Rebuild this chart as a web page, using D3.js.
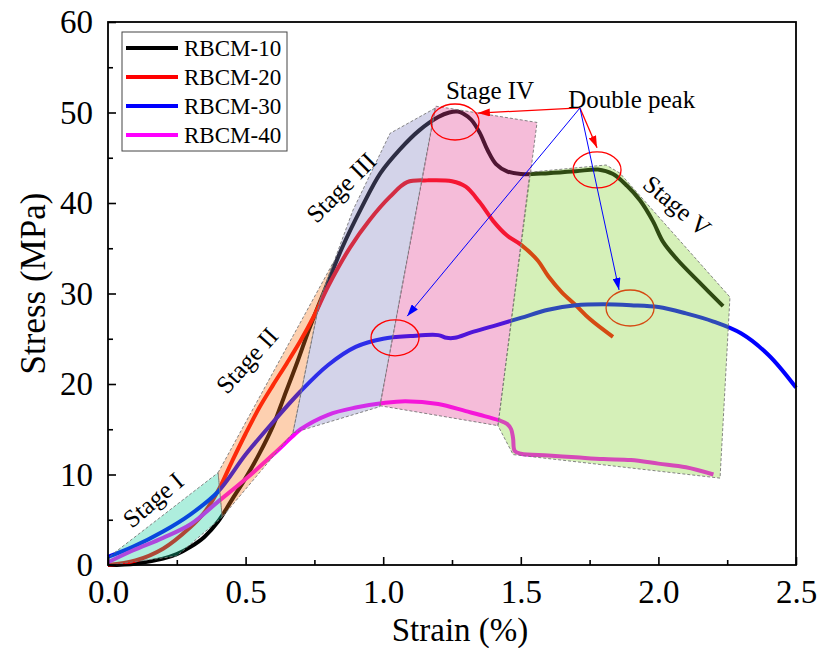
<!DOCTYPE html>
<html>
<head>
<meta charset="utf-8">
<script src="https://cdn.jsdelivr.net/npm/d3@7"></script>
<style>
  body { margin: 0; background: #fff; }
</style>
</head>
<body>
<script>
// stress-strain curves (strain %, stress MPa)
const strain10 = [0, 0.1, 0.2, 0.25, 0.3, 0.35, 0.4, 0.45, 0.5, 0.55, 0.6, 0.64, 0.69, 0.73, 0.8, 0.85, 0.92, 0.99, 1.06, 1.13, 1.2, 1.24, 1.27, 1.29, 1.32, 1.35, 1.38, 1.41, 1.45, 1.5, 1.6, 1.7, 1.78, 1.835, 1.886, 1.933, 1.98, 2.017, 2.07, 2.15, 2.235];
const stress10 = [0, 0.15, 0.7, 1.2, 2.0, 3.1, 4.8, 7.2, 9.6, 12.3, 15.4, 18.6, 22.6, 26.0, 31.3, 35.0, 39.4, 43.3, 45.9, 48.0, 49.5, 50.0, 50.1, 49.9, 49.2, 47.8, 45.8, 44.3, 43.5, 43.2, 43.3, 43.5, 43.7, 43.2, 41.9, 40.3, 38.0, 35.7, 33.7, 31.2, 28.6];

const strain20 = [0, 0.1, 0.2, 0.3, 0.35, 0.4, 0.45, 0.5, 0.55, 0.6, 0.65, 0.7, 0.75, 0.8, 0.88, 0.95, 1.025, 1.087, 1.16, 1.25, 1.3, 1.35, 1.4, 1.45, 1.5, 1.56, 1.6, 1.65, 1.7, 1.75, 1.835];
const stress20 = [0, 0.5, 1.8, 4.2, 5.8, 8.2, 11.4, 14.5, 17.4, 19.9, 22.3, 24.8, 27.6, 30.8, 35.1, 38.1, 40.7, 42.3, 42.5, 42.4, 41.8, 40.1, 38.0, 36.4, 35.4, 33.7, 31.9, 30.1, 28.7, 27.2, 25.2];

const strain30 = [0, 0.09, 0.2, 0.3, 0.4, 0.5, 0.6, 0.7, 0.8, 0.9, 1.0, 1.1, 1.2, 1.23, 1.26, 1.32, 1.4, 1.5, 1.6, 1.7, 1.8, 1.9, 2.0, 2.1, 2.2, 2.3, 2.4, 2.5];
const stress30 = [0.9, 2.0, 3.7, 5.6, 8.1, 12.2, 15.8, 19.2, 22.1, 24.1, 25.0, 25.3, 25.4, 25.1, 25.1, 25.7, 26.4, 27.3, 28.2, 28.7, 28.8, 28.7, 28.5, 27.8, 26.9, 25.6, 23.2, 19.6];

const strain40 = [0, 0.09, 0.2, 0.3, 0.4, 0.5, 0.6, 0.67, 0.7, 0.8, 0.9, 1.0, 1.08, 1.2, 1.3, 1.35, 1.42, 1.45, 1.465, 1.472, 1.478, 1.5, 1.6, 1.7, 1.8, 1.9, 2.0, 2.1, 2.2];
const stress40 = [0.3, 1.6, 3.0, 4.5, 7.0, 9.5, 12.2, 14.2, 15.0, 16.6, 17.4, 17.9, 18.1, 17.8, 17.0, 16.6, 16.0, 15.6, 15.0, 14.0, 12.6, 12.3, 12.1, 11.9, 11.7, 11.6, 11.2, 10.8, 10.0];

const seriesNames = ["RBCM-10", "RBCM-20", "RBCM-30", "RBCM-40"];
const seriesColors = ["#000000", "#ff0000", "#0000ff", "#ff00ff"];

// stage regions [strain, stress]
const stageI = [[0, 0], [0, 0.8], [0.40, 10.2], [0.415, 5.3], [0.25, 1.0], [0.01, 0]];
const stageII = [[0.40, 10.2], [0.818, 33.4], [0.77, 29.3], [0.672, 14.6], [0.415, 5.3]];
const stageIII = [[0.672, 14.6], [0.77, 29.3], [0.89, 39.2], [1.025, 47.7], [1.19, 50.5], [0.988, 17.5]];
const stageIV = [[0.988, 17.6], [1.19, 50.7], [1.559, 48.9], [1.417, 15.4]];
const stageV = [[1.417, 15.4], [1.533, 43.4], [1.81, 44.2], [1.86, 43.3], [2.26, 29.6], [2.224, 9.6], [1.472, 12.2]];
const stageFills = ["#18ce9e", "#f9791d", "#8080c0", "#e24092", "#87d434"];

const stageLabels = ["Stage I", "Stage II", "Stage III", "Stage IV", "Stage V"];
const stageLabelPos = [[0.164, 7.2], [0.505, 22.6], [0.847, 41.7], [1.228, 51.5], [2.068, 39.7]];
const stageLabelRot = [-40, -48, -45, 0, 40];

// double peak markers
const peakCenters = [[1.261, 48.95], [1.777, 43.65], [1.043, 25.1], [1.897, 28.4]];
const arrowFrom = [1.715, 50.5];
const arrowTo = [[1.344, 49.94], [1.777, 46.1], [1.087, 27.5], [1.857, 30.4]];
const arrowColors = ["#ff0000", "#ff0000", "#0000ff", "#0000ff"];

const xTicks = [0, 0.5, 1.0, 1.5, 2.0, 2.5];
const yTicks = [0, 10, 20, 30, 40, 50, 60];

const W = 819, H = 648;
const pLeft = 108, pRight = 796, pTop = 22, pBottom = 565;
const serif = "'Liberation Serif', 'Times New Roman', serif";

const x = d3.scaleLinear().domain([0, 2.5]).range([pLeft, pRight]);
const y = d3.scaleLinear().domain([0, 60]).range([pBottom, pTop]);

const svg = d3.select("body").append("svg")
  .attr("width", W)
  .attr("height", H);

const defs = svg.append("defs");
["red", "blue"].forEach((nm, i) => {
  defs.append("marker")
    .attr("id", "head-" + nm)
    .attr("viewBox", "0 0 12 8")
    .attr("refX", 12).attr("refY", 4)
    .attr("markerWidth", 12).attr("markerHeight", 8)
    .attr("markerUnits", "userSpaceOnUse")
    .attr("orient", "auto")
    .append("path")
    .attr("d", "M0,0 L12,4 L0,8 Z")
    .attr("fill", i == 0 ? "#ff0000" : "#0000ff");
});

const plot = svg.append("g");

const line = d3.line().x(d => x(d[0])).y(d => y(d[1])).curve(d3.curveCatmullRom.alpha(0.5));

const curves = [
  d3.zip(strain10, stress10),
  d3.zip(strain20, stress20),
  d3.zip(strain30, stress30),
  d3.zip(strain40, stress40)
];

plot.selectAll(".curve")
  .data(curves)
  .enter()
  .append("path")
  .attr("class", "curve")
  .attr("d", line)
  .attr("fill", "none")
  .attr("stroke", (d, i) => seriesColors[i])
  .attr("stroke-width", 4)
  .attr("stroke-linejoin", "round");

// this one sits under the green region
plot.append("ellipse")
  .attr("cx", x(peakCenters[3][0]))
  .attr("cy", y(peakCenters[3][1]))
  .attr("rx", 24).attr("ry", 18)
  .attr("fill", "none")
  .attr("stroke", "#ff0000")
  .attr("stroke-width", 1.3);

const poly = d3.line().x(d => x(d[0])).y(d => y(d[1]));

plot.selectAll(".stage")
  .data([stageI, stageII, stageIII, stageIV, stageV])
  .enter()
  .append("path")
  .attr("class", "stage")
  .attr("d", d => poly(d) + "Z")
  .attr("fill", (d, i) => stageFills[i])
  .attr("fill-opacity", 0.35)
  .attr("stroke", "#777")
  .attr("stroke-width", 0.9)
  .attr("stroke-dasharray", "3,2");

plot.selectAll(".peak")
  .data(peakCenters.slice(0, 3))
  .enter()
  .append("ellipse")
  .attr("class", "peak")
  .attr("cx", d => x(d[0]))
  .attr("cy", d => y(d[1]))
  .attr("rx", 24).attr("ry", 18)
  .attr("fill", "none")
  .attr("stroke", "#ff0000")
  .attr("stroke-width", 1.3);

plot.selectAll(".arrow")
  .data(arrowTo)
  .enter()
  .append("line")
  .attr("class", "arrow")
  .attr("x1", x(arrowFrom[0]))
  .attr("y1", y(arrowFrom[1]))
  .attr("x2", d => x(d[0]))
  .attr("y2", d => y(d[1]))
  .attr("stroke", (d, i) => arrowColors[i])
  .attr("stroke-width", (d, i) => i < 2 ? 1.3 : 1)
  .attr("marker-end", (d, i) => i < 2 ? "url(#head-red)" : "url(#head-blue)");

plot.selectAll(".stageLabel")
  .data(stageLabels)
  .enter()
  .append("text")
  .attr("class", "stageLabel")
  .attr("transform", (d, i) => `translate(${x(stageLabelPos[i][0])},${y(stageLabelPos[i][1])}) rotate(${stageLabelRot[i]})`)
  .attr("text-anchor", (d, i) => i == 3 ? "start" : "middle")
  .attr("dominant-baseline", (d, i) => i == 3 ? "auto" : "central")
  .attr("font-size", 25)
  .text(d => d);

plot.append("text")
  .attr("x", x(1.672))
  .attr("y", y(50.5))
  .attr("font-size", 25)
  .text("Double peak");

// axes, ticks pointing inward
const xAxis = d3.axisBottom(x).tickValues(xTicks).tickFormat(d3.format(".1f"))
  .tickSizeInner(-8).tickSizeOuter(0).tickPadding(15);
const xMinor = d3.axisBottom(x).tickValues([0.25, 0.75, 1.25, 1.75, 2.25]).tickFormat("")
  .tickSizeInner(-5).tickSizeOuter(0);
const yAxis = d3.axisLeft(y).tickValues(yTicks).tickFormat(d3.format("d"))
  .tickSizeInner(-8).tickSizeOuter(0).tickPadding(15);
const yMinor = d3.axisLeft(y).tickValues([5, 15, 25, 35, 45, 55]).tickFormat("")
  .tickSizeInner(-5).tickSizeOuter(0);

[[xAxis, "x"], [xMinor, "x"], [yAxis, "y"], [yMinor, "y"]].forEach(([ax, k]) => {
  const g = svg.append("g")
    .attr("transform", k == "x" ? `translate(0,${pBottom})` : `translate(${pLeft},0)`)
    .call(ax)
    .attr("font-family", null);
  g.select(".domain").remove();
  g.selectAll("line").attr("stroke", "#000").attr("stroke-width", 1.6);
  g.selectAll("text")
    .attr("fill", "#000")
    .attr("font-size", 33);
});

svg.append("rect")
  .attr("x", pLeft).attr("y", pTop)
  .attr("width", pRight - pLeft).attr("height", pBottom - pTop)
  .attr("fill", "none")
  .attr("stroke", "#000")
  .attr("stroke-width", 1.8);

svg.append("text")
  .attr("x", (pLeft + pRight) / 2 + 8)
  .attr("y", 641)
  .attr("text-anchor", "middle")
  .attr("font-size", 33)
  .text("Strain (%)");

svg.append("text")
  .attr("transform", `translate(45,${(pTop + pBottom) / 2 - 10}) rotate(-90)`)
  .attr("text-anchor", "middle")
  .attr("font-size", 35)
  .text("Stress (MPa)");

// legend
const legend = svg.append("g").attr("transform", `translate(${pLeft + 14},${pTop + 10})`);
legend.append("rect")
  .attr("width", 165).attr("height", 119)
  .attr("fill", "#fff")
  .attr("stroke", "#444")
  .attr("stroke-width", 1);
seriesNames.forEach((nm, i) => {
  const row = legend.append("g").attr("transform", `translate(0,${16 + i * 29})`);
  row.append("line")
    .attr("x1", 4).attr("x2", 56)
    .attr("stroke", seriesColors[i])
    .attr("stroke-width", 4);
  row.append("text")
    .attr("x", 62).attr("y", 8)
    .attr("font-size", 23)
    .text(nm);
});

svg.selectAll("text").style("font-family", serif);
</script>
</body>
</html>
